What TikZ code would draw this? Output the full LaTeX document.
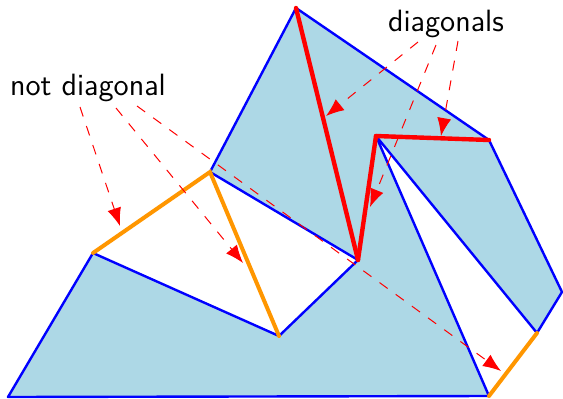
\documentclass[tikz,border=0pt]{standalone}
\usetikzlibrary{arrows.meta}
\definecolor{lblue}{RGB}{173,216,230}
\definecolor{orng}{RGB}{255,150,0}
\begin{document}
\begin{tikzpicture}[x=0.5pt,y=-0.5pt,
  edge/.style={blue,line width=1.2pt,line join=round},
  diag/.style={red,line width=2.2pt,line cap=round},
  nondiag/.style={orng,line width=2pt,line cap=round},
  pointer/.style={red,line width=0.5pt,dash pattern=on 5pt off 5pt,-{Latex[length=9pt,width=7pt]}},
  lbl/.style={font=\sffamily\fontsize{15.4}{18}\selectfont,inner sep=0pt}]
\useasboundingbox (0,0) rectangle (563,398);
\coordinate (A) at (8,397);
\coordinate (B) at (93,253);
\coordinate (C) at (279,336);
\coordinate (D) at (358,260);
\coordinate (E) at (210,172);
\coordinate (F) at (296,8);
\coordinate (G) at (489,140);
\coordinate (H) at (562,292);
\coordinate (I) at (537,333);
\coordinate (J) at (376,136);
\coordinate (K) at (489,396);
\fill[lblue] (A)--(B)--(C)--(D)--(E)--(F)--(G)--(H)--(I)--(J)--(K)--cycle;
\draw[edge] (A)--(B)--(C)--(D)--(E)--(F)--(G)--(H)--(I)--(J)--(K)--cycle;
\draw[diag] (F)--(D);
\draw[diag] (J)--(D);
\draw[diag] (J)--(G);
\draw[nondiag] (B)--(E)--(C);
\draw[nondiag] (K)--(I);
\node[lbl] (nd) at (88,88) {not diagonal};
\node[lbl] (dg) at (446,24) {diagonals};
\coordinate (n1) at (80,107);
\coordinate (n2) at (116,108);
\coordinate (n3) at (137,106);
\coordinate (t1) at (120,226);
\coordinate (t2) at (243,263);
\coordinate (t3) at (501,371);
\coordinate (d1) at (418,42);
\coordinate (d2) at (436,45);
\coordinate (d3) at (458,41);
\coordinate (s1) at (326,116);
\coordinate (s2) at (370,207);
\coordinate (s3) at (441,136);
\draw[pointer] (n1)--(t1);
\draw[pointer] (n2)--(t2);
\draw[pointer] (n3)--(t3);
\draw[pointer] (d1)--(s1);
\draw[pointer] (d2)--(s2);
\draw[pointer] (d3)--(s3);
\end{tikzpicture}
\end{document}
